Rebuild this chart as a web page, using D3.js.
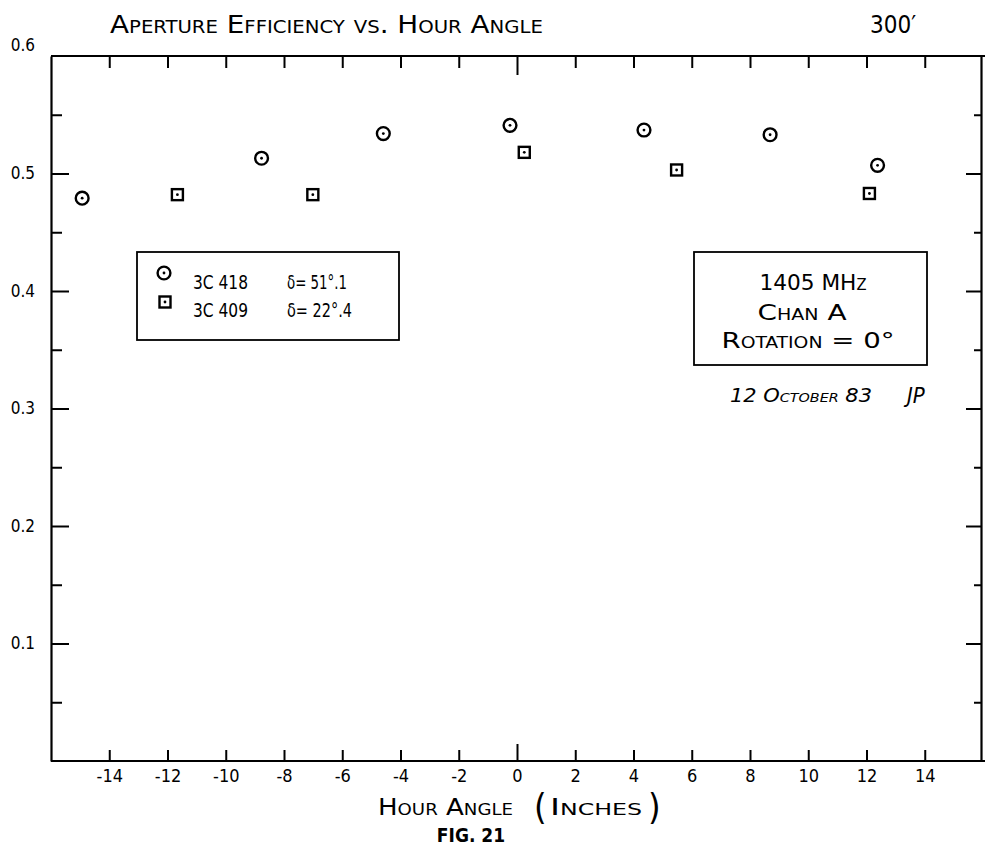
<!DOCTYPE html>
<html>
<head>
<meta charset="utf-8">
<script src="https://cdn.jsdelivr.net/npm/d3@7"></script>
<style>
  html, body { margin: 0; padding: 0; background: #fff; }
  svg { display: block; }
  text { font-family: "DejaVu Sans Condensed", "Liberation Sans Narrow", "DejaVu Sans", sans-serif; fill: #000; }
</style>
</head>
<body>
<svg id="chart" width="985" height="846"></svg>
<script>
// ---- data ----
const circleHA  = [-14.93, -8.77, -4.59, -0.24, 4.36, 8.69, 12.38];   // 3C 418
const circleEff = [0.479, 0.513, 0.534, 0.541, 0.537, 0.533, 0.507];
const squareHA  = [-11.66, -7.01, 0.25, 5.48, 12.10];                // 3C 409
const squareEff = [0.482, 0.482, 0.518, 0.503, 0.483];

const xTickVals   = [-14, -12, -10, -8, -6, -4, -2, 0, 2, 4, 6, 8, 10, 12, 14];
const yMajorLeft  = [0.1, 0.2, 0.3, 0.4, 0.5, 0.6];
const yMinor      = [0.05, 0.15, 0.25, 0.35, 0.45, 0.55];
const yMajorRight = [0.1, 0.2, 0.3, 0.4, 0.5];

const titleText  = "Aperture Efficiency vs. Hour Angle";
const dishText   = "300′";
const xLabelText = "Hour Angle";
const xUnitText  = "Inches";
const figText    = "FIG. 21";
const legendNames = ["3C 418", "3C 409"];
const legendDecs  = ["δ= 51°.1", "δ= 22°.4"];
const infoLines   = ["1405 MHz", "Chan A", "Rotation = 0°"];
const dateText    = "12 October 83";
const initials    = "JP";

// ---- layout ----
const svg = d3.select("#chart");
const x = d3.scaleLinear().domain([-16, 16]).range([51, 983]);
const y = d3.scaleLinear().domain([0, 0.6]).range([761, 56]);
const xRightFrame = 981;

function styleAxis(g) {
  g.selectAll("path.domain").attr("stroke", "#000").attr("stroke-width", 2.2);
  g.selectAll(".tick line").attr("stroke", "#000").attr("stroke-width", 2);
  g.selectAll("text").attr("fill", "#000");
}

// bottom axis
const gB = svg.append("g").attr("transform", `translate(0,${y(0)})`)
  .call(d3.axisBottom(x).tickValues(xTickVals).tickSize(-11).tickSizeOuter(0).tickPadding(8).tickFormat(d => String(d)))
  .call(styleAxis);
gB.selectAll("text").attr("font-size", 18);
gB.selectAll(".tick").filter(d => d === 0).select("line").attr("y2", -17);
gB.select("path.domain").attr("d", `M${x.range()[0]},0H985`);

// top axis
const gT = svg.append("g").attr("transform", `translate(0,${y(0.6)})`)
  .call(d3.axisTop(x).tickValues(xTickVals).tickSize(-12).tickSizeOuter(0).tickFormat(""))
  .call(styleAxis);
gT.selectAll(".tick").filter(d => d === 0).select("line").attr("y2", 19);
gT.select("path.domain").attr("d", `M${x.range()[0]},0H985`);

// left axis
const gL = svg.append("g").attr("transform", `translate(${x(-16)},0)`)
  .call(d3.axisLeft(y).tickValues(yMajorLeft).tickSize(-18).tickSizeOuter(0).tickPadding(16).tickFormat(d3.format(".1f")))
  .call(styleAxis);
gL.selectAll("text").attr("font-size", 17);
gL.selectAll(".tick").filter(d => d === 0.6).select("text").attr("dy", "-0.35em");
gL.selectAll(".tick").filter(d => d === 0.6).select("line").remove();
const gLm = svg.append("g").attr("transform", `translate(${x(-16)},0)`)
  .call(d3.axisLeft(y).tickValues(yMinor).tickSize(-11).tickFormat(""))
  .call(styleAxis);
gLm.select("path.domain").remove();

// right axis
const gR = svg.append("g").attr("transform", `translate(${xRightFrame},0)`)
  .call(d3.axisRight(y).tickValues(yMajorRight).tickSize(-15).tickSizeOuter(0).tickFormat(""))
  .call(styleAxis);
const gRm = svg.append("g").attr("transform", `translate(${xRightFrame},0)`)
  .call(d3.axisRight(y).tickValues(yMinor).tickSize(-7).tickFormat(""))
  .call(styleAxis);
gRm.select("path.domain").remove();

// ---- markers ----
function drawCircle(g, cx, cy) {
  g.append("circle").attr("cx", cx).attr("cy", cy).attr("r", 6.4)
    .attr("fill", "none").attr("stroke", "#000").attr("stroke-width", 2.4);
  g.append("circle").attr("cx", cx).attr("cy", cy).attr("r", 1.4).attr("fill", "#000");
}
function drawSquare(g, cx, cy) {
  g.append("rect").attr("x", cx - 5.5).attr("y", cy - 5.5).attr("width", 11).attr("height", 11)
    .attr("fill", "none").attr("stroke", "#000").attr("stroke-width", 2.4);
  g.append("circle").attr("cx", cx).attr("cy", cy).attr("r", 1.4).attr("fill", "#000");
}
const gPts = svg.append("g");
circleHA.forEach((h, i) => drawCircle(gPts, x(h), y(circleEff[i])));
squareHA.forEach((h, i) => drawSquare(gPts, x(h), y(squareEff[i])));

// ---- title ----
svg.append("text").attr("x", 110).attr("y", 33).attr("font-size", 24)
  .style("font-variant", "small-caps").attr("textLength", 433).attr("lengthAdjust", "spacingAndGlyphs")
  .text(titleText);
svg.append("text").attr("x", 870).attr("y", 33).attr("font-size", 24).text(dishText);

// ---- legend box ----
svg.append("rect").attr("x", 137).attr("y", 252).attr("width", 262).attr("height", 88)
  .attr("fill", "#fff").attr("stroke", "#000").attr("stroke-width", 1.8);
drawCircle(svg, 164, 273);
drawSquare(svg, 165, 302);
legendNames.forEach((n, i) => {
  svg.append("text").attr("x", 193).attr("y", 289 + i * 28).attr("font-size", 20)
    .attr("textLength", 55).attr("lengthAdjust", "spacingAndGlyphs").text(n);
  svg.append("text").attr("x", 287).attr("y", 289 + i * 28).attr("font-size", 20)
    .attr("textLength", i === 0 ? 60 : 65).attr("lengthAdjust", "spacingAndGlyphs").text(legendDecs[i]);
});

// ---- info box ----
svg.append("rect").attr("x", 694).attr("y", 252).attr("width", 233).attr("height", 113)
  .attr("fill", "#fff").attr("stroke", "#000").attr("stroke-width", 1.8);
const infoX = [813, 802, 808];
const infoY = [290, 320, 348];
const infoW = [107, 89, 173];
infoLines.forEach((t, i) => {
  svg.append("text").attr("x", infoX[i]).attr("y", infoY[i]).attr("text-anchor", "middle")
    .attr("font-size", 22).style("font-variant", "small-caps")
    .attr("textLength", infoW[i]).attr("lengthAdjust", "spacingAndGlyphs").text(t);
});
svg.append("text").attr("x", 730).attr("y", 402).attr("font-size", 19).attr("font-style", "italic")
  .style("font-variant", "small-caps").attr("textLength", 142).attr("lengthAdjust", "spacingAndGlyphs").text(dateText);
svg.append("text").attr("x", 907).attr("y", 403).attr("font-size", 22).attr("font-style", "italic")
  .text(initials);

// ---- x label ----
const xl = svg.append("text").attr("y", 815).attr("font-size", 23)
  .style("font-variant", "small-caps");
xl.append("tspan").attr("x", 378).attr("textLength", 135).attr("lengthAdjust", "spacingAndGlyphs").text(xLabelText);
xl.append("tspan").attr("x", 534).attr("dy", 4).attr("font-size", 36).attr("font-weight", 200).text("(");
xl.append("tspan").attr("x", 550).attr("dy", -4).attr("font-size", 23)
  .attr("textLength", 92).attr("lengthAdjust", "spacingAndGlyphs").text(xUnitText);
xl.append("tspan").attr("x", 648).attr("dy", 4).attr("font-size", 36).attr("font-weight", 200).text(")");
svg.append("text").attr("x", 471).attr("y", 842).attr("text-anchor", "middle").attr("font-size", 19)
  .attr("font-weight", "bold").attr("font-family", "DejaVu Sans, sans-serif").text(figText);
</script>
</body>
</html>
